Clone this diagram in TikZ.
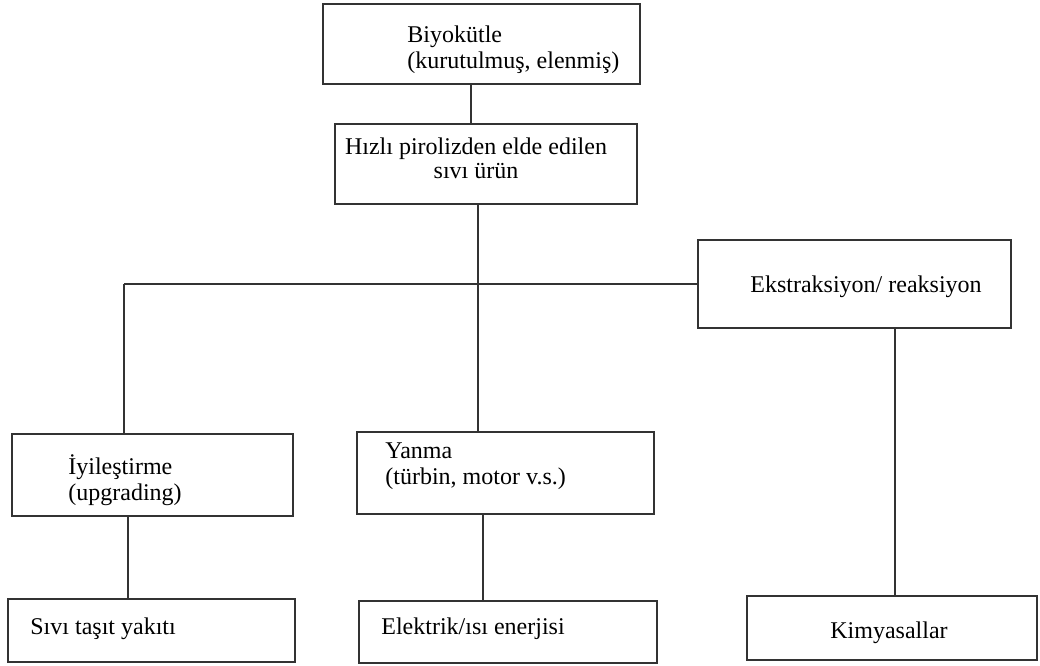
\documentclass[tikz,border=0pt]{standalone}
\usepackage{fontspec}
\setmainfont{Liberation Serif}

\begin{document}
\begin{tikzpicture}[
    x=0.5pt, y=-0.5pt,
    box/.style={
        rectangle,
        draw=black!80,
        line width=1pt,
        inner sep=0pt
    },
    txt/.style={
        anchor=west,
        align=left,
        inner sep=0pt,
        font=\fontsize{12}{13}\selectfont
    },
    line/.style={line width=1pt, black!80}
]
\useasboundingbox (0,0) rectangle (1040,665);

% boxes
\node[box, minimum width=158.5pt, minimum height=40pt] (bio) at (481.5,44) {};
\node[box, minimum width=151pt, minimum height=40pt] (piro) at (486,164) {};
\node[box, minimum width=156.5pt, minimum height=44pt] (ekst) at (854.5,284) {};
\node[box, minimum width=140.5pt, minimum height=41pt] (iyi) at (152.5,475) {};
\node[box, minimum width=148.5pt, minimum height=41pt] (yan) at (505.5,473) {};
\node[box, minimum width=143.5pt, minimum height=31.5pt] (yak) at (151.5,630.5) {};
\node[box, minimum width=149pt, minimum height=31pt] (ele) at (508,632) {};
\node[box, minimum width=145pt, minimum height=32pt] (kim) at (892,628) {};

% texts
\node[txt] (biot) at (407,50) {Biyokütle\\(kurutulmuş, elenmiş)};
\node[txt, anchor=center, align=center, font=\fontsize{12}{12}\selectfont] (pirot) at (476,158) {Hızlı pirolizden elde edilen\\sıvı ürün};
\node[txt] (ekstt) at (750,287) {Ekstraksiyon/ reaksiyon};
\node[txt] (iyit) at (68,480) {İyileştirme\\(upgrading)};
\node[txt] (yant) at (385,466) {Yanma\\(türbin, motor v.s.)};
\node[txt] (yakt) at (30,629) {Sıvı taşıt yakıtı};
\node[txt] (elet) at (381,629) {Elektrik/ısı enerjisi};
\node[txt] (kimt) at (830,633) {Kimyasallar};

% connectors
\coordinate (split) at (124,284);
\coordinate (xbio) at (471,104);
\coordinate (xmid) at (478,284);
\coordinate (xiyi) at (128,558);
\coordinate (xyan) at (483,558);
\coordinate (xkim) at (895,460);

\draw[line] (bio.south -| xbio) -- (piro.north -| xbio);
\draw[line] (piro.south -| xmid) -- (yan.north -| xmid);
\draw[line] (split) -- (ekst.west);
\draw[line] (split) -- (iyi.north -| split);
\draw[line] (iyi.south -| xiyi) -- (yak.north -| xiyi);
\draw[line] (yan.south -| xyan) -- (ele.north -| xyan);
\draw[line] (ekst.south -| xkim) -- (kim.north -| xkim);

\end{tikzpicture}
\end{document}
